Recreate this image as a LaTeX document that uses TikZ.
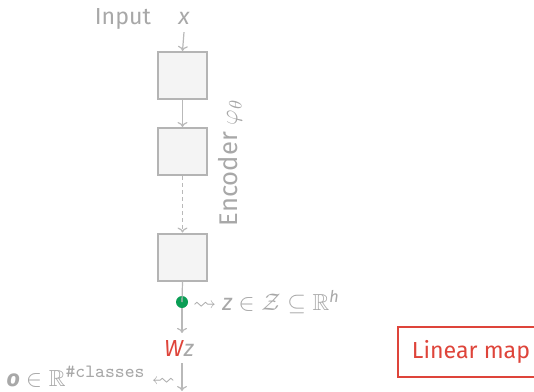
\documentclass[tikz,border=0pt]{standalone}
\usepackage{amsmath,amssymb}
\usepackage{graphicx}
\usepackage{fontspec}
\setmainfont{Fira Sans}
\usetikzlibrary{arrows.meta}
\definecolor{txtgray}{RGB}{168,168,168}
\definecolor{linegray}{RGB}{185,185,185}
\definecolor{boxgray}{RGB}{180,180,180}
\definecolor{boxfill}{RGB}{244,244,244}
\definecolor{mapred}{RGB}{222,68,58}
\definecolor{dotgreen}{RGB}{10,158,85}
\begin{document}
\begin{tikzpicture}[x=0.5pt,y=-0.5pt,font=\fontsize{11.6}{14}\selectfont,
  blk/.style={draw=boxgray,fill=boxfill,line width=1pt,minimum width=24.5pt,minimum height=23.5pt,inner sep=0pt},
  conn/.style={draw=linegray,line width=0.6pt,-{To[length=2.5pt,width=5pt]}},
  plain/.style={draw=linegray,line width=0.6pt},
  lbl/.style={text=txtgray}]
\useasboundingbox (0,0) rectangle (534,391);
\node[lbl,anchor=base] (x) at (184,25) {\textit{x}};
\node[lbl,anchor=base east] (inp) at (158,25) {Input};
\node[blk] (b1) at (182.5,75.5) {};
\node[blk] (b2) at (182.5,151.5) {};
\node[blk] (b3) at (182.5,257) {};
\node[lbl,rotate=90,font=\fontsize{12.8}{14}\selectfont] (enc) at (230,163) {Encoder $\varphi_\theta$};
\node[circle,fill=dotgreen,inner sep=0pt,minimum size=6pt] (dot) at (182,302) {};
\node[lbl,anchor=west] (zl) at (186,302) {$\rightsquigarrow$ \textit{z} $\in \mathcal{Z} \subseteq \mathbb{R}^{\textit{h}}$};
\node[lbl,anchor=base] (wz) at (179,356) {\textcolor{mapred}{\textit{W}}\textit{z}};
\node[lbl,anchor=east] (ol) at (182,377) {\textbf{\textit{o}} $\in \mathbb{R}^{\text{\ttfamily\fontsize{9.4}{10}\selectfont\#classes}}$ \reflectbox{$\rightsquigarrow$}};
\coordinate (end) at (182,391);
\node[draw=mapred,line width=1pt,text=mapred,anchor=west,minimum height=25pt,minimum width=73pt] (lm) at (397,352) {Linear map};
\draw[conn] (x.south) -- (b1.north);
\draw[conn] (b1.south) -- (b2.north);
\draw[conn,dash pattern=on 2pt off 1.5pt] (b2.south) -- (b3.north);
\draw[plain] (b3.south) -- (dot.center);
\draw[conn] (dot.south) -- (dot |- wz.north);
\draw[conn] (dot |- wz.south) -- (end);
\end{tikzpicture}
\end{document}
